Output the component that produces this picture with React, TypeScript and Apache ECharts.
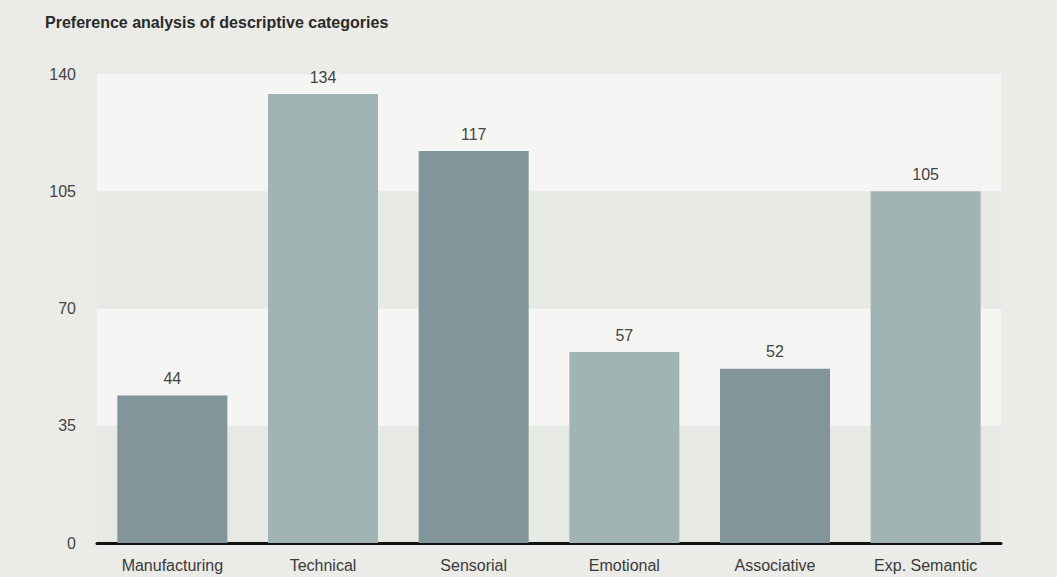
import React, { useEffect, useRef } from "react";
import * as echarts from "echarts";

const categories = ["Manufacturing", "Technical", "Sensorial", "Emotional", "Associative", "Exp. Semantic"];
const values = [44, 134, 117, 57, 52, 105];
const barColors = ["#81959a", "#a0b4b4", "#81959a", "#a0b4b4", "#81959a", "#a0b4b4"];
const yTicks = [0, 35, 70, 105, 140];

export default function App() {
  const ref = useRef<HTMLDivElement>(null);
  useEffect(() => {
    document.body.style.margin = "0";
    document.body.style.background = "#ebebe7";
    const chart = echarts.init(ref.current!, null, { renderer: "svg" });
    chart.setOption({
      animation: false,
      backgroundColor: "#ebebe7",
      textStyle: { fontFamily: "Liberation Sans, Arial, sans-serif" },
      title: {
        text: "Preference analysis of descriptive categories",
        left: 40,
        top: 9,
        textStyle: { fontSize: 16, fontWeight: "bold", color: "#2a2a2a", fontFamily: "Liberation Sans, Arial, sans-serif" },
      },
      grid: { left: 97, right: 56, top: 74, bottom: 34 },
      xAxis: {
        type: "category",
        data: categories,
        axisLine: { show: true, lineStyle: { color: "#111", width: 3 } },
        axisTick: { show: false },
        axisLabel: { color: "#3a3a3a", fontSize: 16, margin: 14 },
      },
      yAxis: {
        type: "value",
        min: yTicks[0],
        max: yTicks[yTicks.length - 1],
        interval: 35,
        axisLine: { show: false },
        axisTick: { show: false },
        splitLine: { show: false },
        splitArea: { show: true, areaStyle: { color: ["#e7eae4", "#f5f5f3"] } },
        axisLabel: { color: "#444", fontSize: 16, margin: 21 },
      },
      series: [
        {
          type: "bar",
          barWidth: 110,
          data: values.map((v, i) => ({ value: v, itemStyle: { color: barColors[i] } })),
          label: { show: true, position: "top", distance: 9, color: "#444", fontSize: 16 },
        },
      ],
    });
    return () => chart.dispose();
  }, []);
  return <div ref={ref} style={{ position: "absolute", left: 0, top: 0, width: 1057, height: 577 }} />;
}
